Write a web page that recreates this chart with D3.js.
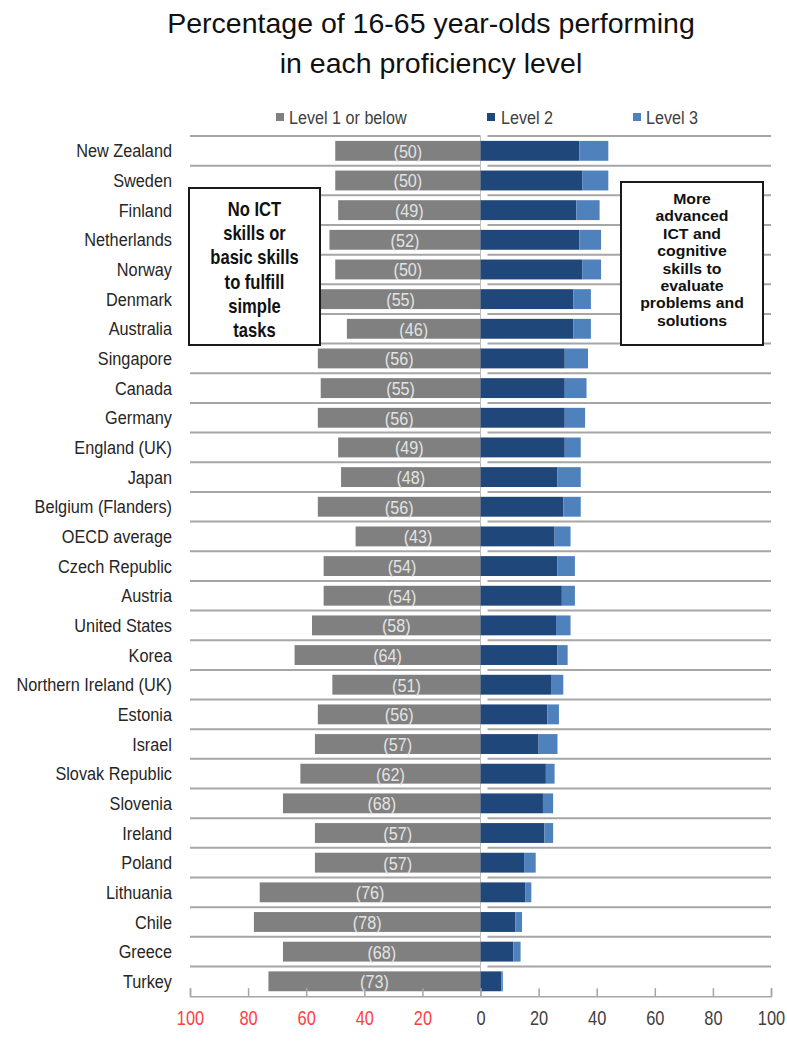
<!DOCTYPE html>
<html><head><meta charset="utf-8">
<script src="https://cdn.jsdelivr.net/npm/d3@7/dist/d3.min.js"></script>
<style>body{margin:0;background:#fff}</style>
</head><body>
<svg id="chart" width="787" height="1055"></svg>
<script>
const countries = ["New Zealand","Sweden","Finland","Netherlands","Norway","Denmark","Australia","Singapore","Canada","Germany","England (UK)","Japan","Belgium (Flanders)","OECD average","Czech Republic","Austria","United States","Korea","Northern Ireland (UK)","Estonia","Israel","Slovak Republic","Slovenia","Ireland","Poland","Lithuania","Chile","Greece","Turkey"];
const level1 = [50,50,49,52,50,55,46,56,55,56,49,48,56,43,54,54,58,64,51,56,57,62,68,57,57,76,78,68,73];
const level2 = [34,35,33,34,35,32,32,29,29,29,29,26.5,28.5,25.5,26.5,28,26,26.5,24.5,23,20,22.5,21.5,22,15,15.5,12,11.3,7.2];
const level3 = [10,9,8,7.5,6.5,6,6,8,7.5,7,5.5,8,6,5.5,6,4.5,5,3.5,4,4,6.5,3,3.5,3,4,2,2.3,2.5,0.5];
const tickValues = [-100,-80,-60,-40,-20,0,20,40,60,80,100];
const legendLabels = ["Level 1 or below","Level 2","Level 3"];
const titleLines = ["Percentage of 16-65 year-olds performing","in each proficiency level"];
const leftNote = ["No ICT","skills or","basic skills","to fulfill","simple","tasks"];
const rightNote = ["More","advanced","ICT and","cognitive","skills to","evaluate","problems and","solutions"];

const colors = {l1:"#808080", l2:"#1f477a", l3:"#4f81bd"};
const font = "'Liberation Sans',Arial,sans-serif";
const svg = d3.select("#chart");

const x = d3.scaleLinear().domain([-100,100]).range([190,771]);
const y = d3.scaleBand().domain(countries).range([136, 136 + 29*29.66]).paddingInner(0.33).paddingOuter(0.165);
const step = y.step();

// title
svg.append("g").selectAll("text").data(titleLines).join("text")
  .attr("x", 431).attr("y", (d,i)=>33 + i*40)
  .attr("text-anchor","middle")
  .style("font-family",font)
  .style("font-size","28.5px").attr("fill","#111")
  .text(d=>d);

// legend
const legSq = [276, 487, 633];
const legTx = [289, 501, 646];
const legC = [colors.l1, colors.l2, colors.l3];
const leg = svg.append("g");
legendLabels.forEach((t,i)=>{
  leg.append("rect").attr("x",legSq[i]).attr("y",113).attr("width",8).attr("height",8).attr("fill",legC[i]);
  leg.append("text").attr("transform",`translate(${legTx[i]},124) scale(0.85,1)`)
    .style("font-family",font).style("font-size","19px").attr("fill","#404040").text(t);
});

// separators
const seps = d3.range(countries.length);
const sepG = svg.append("g");
sepG.selectAll("line.l").data(seps).join("line")
  .attr("x1",190).attr("x2",x(0)).attr("y1",i=>y.range()[0]+i*step).attr("y2",i=>y.range()[0]+i*step)
  .attr("stroke","#a6a6a6").attr("stroke-width",2);
sepG.selectAll("line.r").data(seps).join("line")
  .attr("x1",x(0)+7).attr("x2",771).attr("y1",i=>y.range()[0]+i*step).attr("y2",i=>y.range()[0]+i*step)
  .attr("stroke","#a6a6a6").attr("stroke-width",2);

// zero line
svg.append("line").attr("x1",x(0)).attr("x2",x(0)).attr("y1",y.range()[0]).attr("y2",y.range()[1])
  .attr("stroke","#bfbfbf").attr("stroke-width",1);

// bars
const rows = countries.map((c,i)=>({c, a:level1[i], b:level2[i], d:level3[i]}));
const bars = svg.append("g");
bars.selectAll("rect.l1").data(rows).join("rect")
  .attr("x",d=>x(-d.a)).attr("width",d=>x(0)-x(-d.a)).attr("y",d=>y(d.c)).attr("height",y.bandwidth()).attr("fill",colors.l1);
bars.selectAll("rect.l2").data(rows).join("rect")
  .attr("x",x(0)).attr("width",d=>x(d.b)-x(0)).attr("y",d=>y(d.c)).attr("height",y.bandwidth()).attr("fill",colors.l2);
bars.selectAll("rect.l3").data(rows).join("rect")
  .attr("x",d=>x(d.b)).attr("width",d=>x(d.b+d.d)-x(d.b)).attr("y",d=>y(d.c)).attr("height",y.bandwidth()).attr("fill",colors.l3);
bars.selectAll("text").data(rows).join("text")
  .attr("transform",d=>`translate(${(x(-d.a)+x(0))/2},${y(d.c)+y.bandwidth()/2}) scale(0.85,1)`).attr("dy","0.36em")
  .attr("text-anchor","middle").style("font-family",font).style("font-size","19px").attr("fill","#e3e3e3")
  .text(d=>"("+d.a+")");

// country labels
svg.append("g").selectAll("text").data(countries).join("text")
  .attr("transform",d=>`translate(172,${y(d)+y.bandwidth()/2}) scale(0.88,1)`).attr("dy","0.36em").attr("text-anchor","end")
  .style("font-family",font).style("font-size","18.5px").attr("fill","#262626").text(d=>d);

// axis
const ax = svg.append("g").attr("transform",`translate(0,${y.range()[1]})`)
  .call(d3.axisBottom(x).tickValues(tickValues).tickSize(-8).tickPadding(15).tickFormat(d=>Math.abs(d)));
ax.select(".domain").attr("stroke","#a6a6a6").attr("stroke-width",1.5);
ax.selectAll(".tick line").attr("stroke","#a6a6a6").attr("stroke-width",1.5);
ax.selectAll(".tick text").style("font-family",font).style("font-size","20px").attr("transform","scale(0.82,1)")
  .attr("fill",d=>d<0?"#ff4040":"#404040");

// annotation boxes
function note(lines, bx, by, bw, bh, cx, y0, lh, fs, sx){
  const g = svg.append("g");
  g.append("rect").attr("x",bx).attr("y",by).attr("width",bw).attr("height",bh)
    .attr("fill","#fff").attr("stroke","#1a1a1a").attr("stroke-width",2);
  g.selectAll("text").data(lines).join("text")
    .attr("transform",(d,i)=>`translate(${cx},${y0+i*lh}) scale(${sx},1)`).attr("text-anchor","middle")
    .style("font-family",font).style("font-weight","bold").style("font-size",fs+"px").attr("fill","#111")
    .text(d=>d);
}
note(leftNote, 189, 188, 131, 157, 254.5, 216, 24.2, 19.5, 0.85);
note(rightNote, 621, 182, 142, 163, 692, 204, 17.4, 15.5, 1.02);
</script>
</body></html>
